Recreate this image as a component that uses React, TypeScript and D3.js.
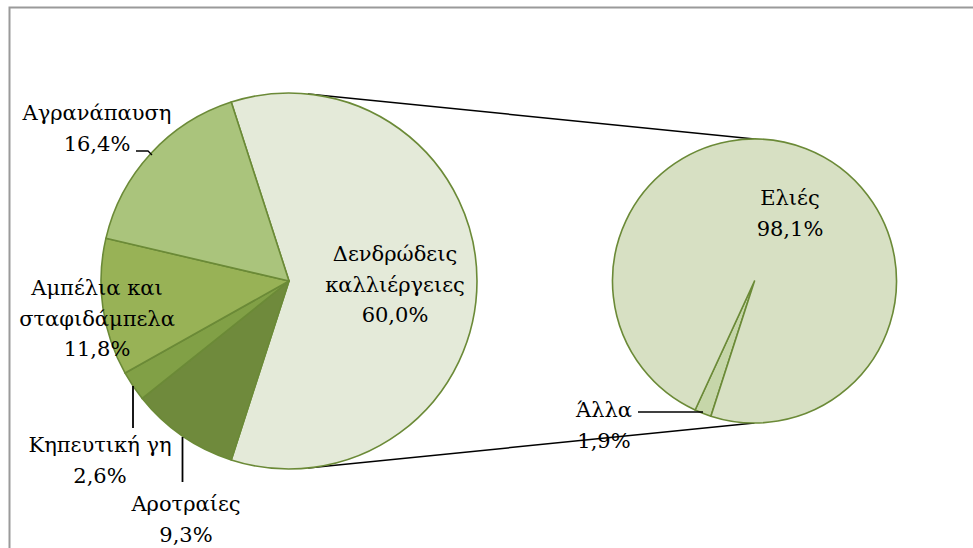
import React from "react";
import * as d3 from "d3";

const mainCategories = ["Δενδρώδεις καλλιέργειες", "Αροτραίες", "Κηπευτική γη", "Αμπέλια και σταφιδάμπελα", "Αγρανάπαυση"];
const mainValues = [60.0, 9.3, 2.6, 11.8, 16.4];
const mainColors = ["#e4ead9", "#6f8a3c", "#81a046", "#98b256", "#aac47c"];

const subCategories = ["Άλλα", "Ελιές"];
const subValues = [1.9, 98.1];
const subColors = ["#c6d6a9", "#d7e0c3"];

const W = 973;
const H = 548;
const deg = Math.PI / 180;

const fmt = (v: number) => v.toFixed(1).replace(".", ",") + "%";

// tangent point on circle (c, r) seen from external point p, choosing side by sign
function tangent(cx: number, cy: number, r: number, px: number, py: number, side: number) {
  const dx = px - cx, dy = py - cy;
  const d = Math.hypot(dx, dy);
  const base = Math.atan2(dy, dx);
  const a = Math.acos(r / d);
  const t = base + side * a;
  return [cx + r * Math.cos(t), cy + r * Math.sin(t)];
}

export default function App() {
  const c1 = { x: 289, y: 281, r: 188 };
  const c2 = { x: 754.5, y: 281, r: 142 };

  const mainStart = -17.9 * deg;
  const total = d3.sum(mainValues);
  const mainPie = d3.pie<number>().sort(null).value((d) => d)
    .startAngle(mainStart).endAngle(mainStart + 2 * Math.PI);
  const mainArcs = mainPie(mainValues);
  const arc = d3.arc<d3.PieArcDatum<number>>().innerRadius(0).outerRadius(c1.r);

  const splitEnd = mainStart + (mainValues[0] / total) * 2 * Math.PI;
  const subPie = d3.pie<number>().sort(null).value((d) => d)
    .startAngle(splitEnd).endAngle(splitEnd + 2 * Math.PI);
  const subArcs = subPie(subValues);
  const arc2 = d3.arc<d3.PieArcDatum<number>>().innerRadius(0).outerRadius(c2.r);

  const topP = [c2.x, c2.y - c2.r];
  const botP = [c2.x, c2.y + c2.r];
  const t1 = tangent(c1.x, c1.y, c1.r, topP[0], topP[1], -1);
  const t2 = tangent(c1.x, c1.y, c1.r, botP[0], botP[1], 1);

  const font = "'DejaVu Serif', 'Noto Serif', FreeSerif, Tinos, serif";
  const fs = 21;
  const lh = 30.5;

  const Label = ({ x, y, lines }: { x: number; y: number; lines: string[] }) => (
    <text x={x} y={y} textAnchor="middle" style={{ fontFamily: font, fontSize: fs }} fill="#000">
      {lines.map((l, i) => (
        <tspan key={i} x={x} dy={i === 0 ? 0 : lh}>{l}</tspan>
      ))}
    </text>
  );

  return (
    <svg width={W} height={H} style={{ position: "absolute", left: 0, top: 0 }}>
      <rect x={0} y={0} width={W} height={H} fill="#fff" />
      <path d={`M9.5,${H} V7.5 H${W}`} fill="none" stroke="#9a9a9a" strokeWidth={2} />

      <line x1={t1[0]} y1={t1[1]} x2={topP[0]} y2={topP[1]} stroke="#000" strokeWidth={1.5} />
      <line x1={t2[0]} y1={t2[1]} x2={botP[0]} y2={botP[1]} stroke="#000" strokeWidth={1.5} />

      <g transform={`translate(${c1.x},${c1.y})`}>
        {mainArcs.map((a, i) => (
          <path key={mainCategories[i]} d={arc(a) ?? ""} fill={mainColors[i]} stroke="#6b8a37" strokeWidth={1.6} strokeLinejoin="round" />
        ))}
      </g>
      <g transform={`translate(${c2.x},${c2.y})`}>
        {subArcs.map((a, i) => (
          <path key={subCategories[i]} d={arc2(a) ?? ""} fill={subColors[i]} stroke="#6b8a37" strokeWidth={1.6} strokeLinejoin="round" />
        ))}
      </g>

      {/* leader lines */}
      <path d="M136,151 H148 L152,155" fill="none" stroke="#000" strokeWidth={1.3} />
      <line x1={133} y1={386} x2={133} y2={428} stroke="#000" strokeWidth={1.8} />
      <line x1={182.5} y1={437} x2={182.5} y2={482} stroke="#000" strokeWidth={1.8} />
      <line x1={638} y1={412} x2={703} y2={412} stroke="#000" strokeWidth={1.5} />

      <Label x={395} y={261} lines={["Δενδρώδεις", "καλλιέργειες", fmt(mainValues[0])]} />
      <Label x={97} y={120} lines={[mainCategories[4], fmt(mainValues[4])]} />
      <Label x={97} y={295} lines={["Αμπέλια και", "σταφιδάμπελα", fmt(mainValues[3])]} />
      <Label x={100} y={452} lines={[mainCategories[2], fmt(mainValues[2])]} />
      <Label x={186} y={511} lines={[mainCategories[1], fmt(mainValues[1])]} />
      <Label x={790} y={205} lines={[subCategories[1], fmt(subValues[1])]} />
      <Label x={604} y={417} lines={[subCategories[0], fmt(subValues[0])]} />
    </svg>
  );
}
